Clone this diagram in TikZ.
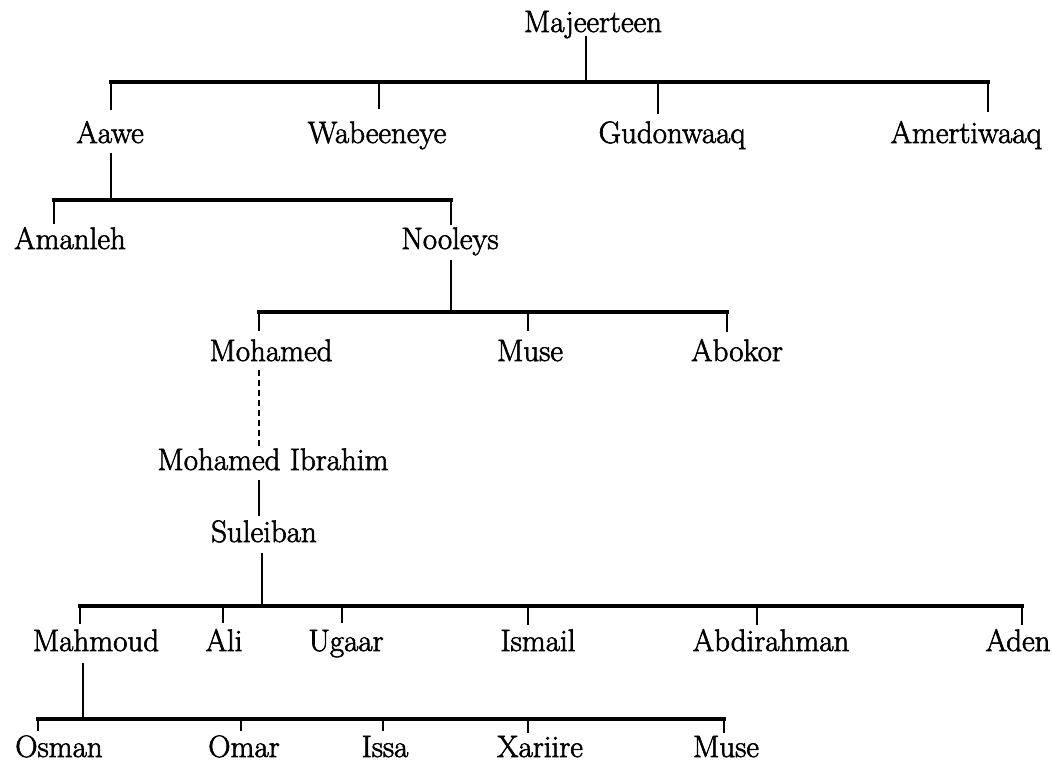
\documentclass[tikz,border=0pt]{standalone}
\usetikzlibrary{calc}
\usepackage{fontspec}
\newfontfamily\nmfam{Latin Modern Roman}[FakeBold=2]
\newcommand\nmfont{\nmfam\fontsize{31}{31}\selectfont}
\begin{document}
\begin{tikzpicture}[x=1pt,y=-1pt,
  nm/.style={inner sep=0pt, anchor=base, font=\nmfont, text depth=0pt},
  vl/.style={line width=2.4pt},
  bar/.style={line width=3.2pt, line cap=rect},
  dl/.style={line width=2.4pt, dash pattern=on 6pt off 4pt}]
\useasboundingbox (0,0) rectangle (1053,764);
% ---------- nodes ----------
\node[nm,text depth=4pt] (maj) at (593,32) {Majeerteen};
\node[nm,text height=33pt,text depth=10pt] (aawe) at (110,143) {Aawe};
\node[nm,text height=34pt] (wab) at (377,143) {Wabeeneye};
\node[nm,text height=29pt] (gud) at (672,143) {Gudonwaaq};
\node[nm,text height=31pt] (ame) at (966,143) {Amertiwaaq};
\node[nm,text height=25pt] (ama) at (70,249) {Amanleh};
\node[nm,text height=24pt,text depth=11pt] (noo) at (450,249) {Nooleys};
\node[nm,text height=30pt,text depth=9pt] (moh) at (271,361) {Mohamed};
\node[nm,text height=30pt] (musA) at (530,361) {Muse};
\node[nm,text height=29pt] (abo) at (737,361) {Abokor};
\node[nm,text height=22pt,text depth=10pt] (mib) at (273,470) {Mohamed Ibrahim};
\node[nm,text height=26pt,text depth=11pt] (sul) at (264,542) {Suleiban};
\node[nm,text height=27pt,text depth=12pt] (mah) at (96,651) {Mahmoud};
\node[nm,text height=28pt] (ali) at (224,651) {Ali};
\node[nm,text height=28pt] (uga) at (346,651) {Ugaar};
\node[nm,text height=26pt] (ism) at (538,651) {Ismail};
\node[nm,text height=26pt] (abd) at (771,651) {Abdirahman};
\node[nm,text height=26pt] (ade) at (1018,651) {Aden};
\node[nm,text height=26pt] (osm) at (59,757) {Osman};
\node[nm,text height=26pt] (oma) at (244,757) {Omar};
\node[nm,text height=26pt] (iss) at (385,757) {Issa};
\node[nm,text height=24pt] (xar) at (540,757) {Xariire};
\node[nm,text height=24pt] (musB) at (726,757) {Muse};
% ---------- level 0 -> 1 ----------
\coordinate (j0) at (586,82);
\coordinate (b1l) at (111,82);
\coordinate (b1r) at (988,82);
\draw[vl] (maj.south -| j0) -- (j0);
\draw[bar] (b1l) -- (b1r);
\coordinate (d1a) at (111,82);
\coordinate (d1b) at (379,82);
\coordinate (d1c) at (658,82);
\coordinate (d1d) at (988,82);
\draw[vl] (d1a) -- (d1a |- aawe.north);
\draw[vl] (d1b) -- (d1b |- wab.north);
\draw[vl] (d1c) -- (d1c |- gud.north);
\draw[vl] (d1d) -- (d1d |- ame.north);
% ---------- Aawe ----------
\coordinate (j1) at (111,200);
\coordinate (b2l) at (54,200);
\coordinate (b2r) at (451,200);
\draw[vl] (aawe.south -| j1) -- (j1);
\draw[bar] (b2l) -- (b2r);
\draw[vl] (b2l) -- (b2l |- ama.north);
\draw[vl] (b2r) -- (b2r |- noo.north);
% ---------- Nooleys ----------
\coordinate (j2) at (451,312);
\coordinate (b3l) at (259,312);
\coordinate (b3m) at (528,312);
\coordinate (b3r) at (727,312);
\draw[vl] (noo.south -| j2) -- (j2);
\draw[bar] (b3l) -- (b3r);
\draw[vl] (b3l) -- (b3l |- moh.north);
\draw[vl] (b3m) -- (b3m |- musA.north);
\draw[vl] (b3r) -- (b3r |- abo.north);
% ---------- Mohamed line ----------
\coordinate (x3) at (259,0);
\draw[dl] (moh.south -| x3) -- (mib.north -| x3);
\draw[vl] (mib.south -| x3) -- (sul.north -| x3);
% ---------- Suleiban ----------
\coordinate (j4) at (262,606);
\coordinate (b4l) at (80,606);
\coordinate (b4r) at (1022,606);
\draw[vl] (sul.south -| j4) -- (j4);
\draw[bar] (b4l) -- (b4r);
\coordinate (d4b) at (223,606);
\coordinate (d4c) at (342,606);
\coordinate (d4d) at (528,606);
\coordinate (d4e) at (757,606);
\draw[vl] (b4l) -- (b4l |- mah.north);
\draw[vl] (d4b) -- (d4b |- ali.north);
\draw[vl] (d4c) -- (d4c |- uga.north);
\draw[vl] (d4d) -- (d4d |- ism.north);
\draw[vl] (d4e) -- (d4e |- abd.north);
\draw[vl] (b4r) -- (b4r |- ade.north);
% ---------- Mahmoud ----------
\coordinate (j5) at (83,719);
\coordinate (b5l) at (38,719);
\coordinate (b5r) at (724,719);
\draw[vl] (mah.south -| j5) -- (j5);
\draw[bar] (b5l) -- (b5r);
\coordinate (d5b) at (241,719);
\coordinate (d5c) at (383,719);
\coordinate (d5d) at (528,719);
\draw[vl] (b5l) -- (b5l |- osm.north);
\draw[vl] (d5b) -- (d5b |- oma.north);
\draw[vl] (d5c) -- (d5c |- iss.north);
\draw[vl] (d5d) -- (d5d |- xar.north);
\draw[vl] (b5r) -- (b5r |- musB.north);
\end{tikzpicture}
\end{document}
